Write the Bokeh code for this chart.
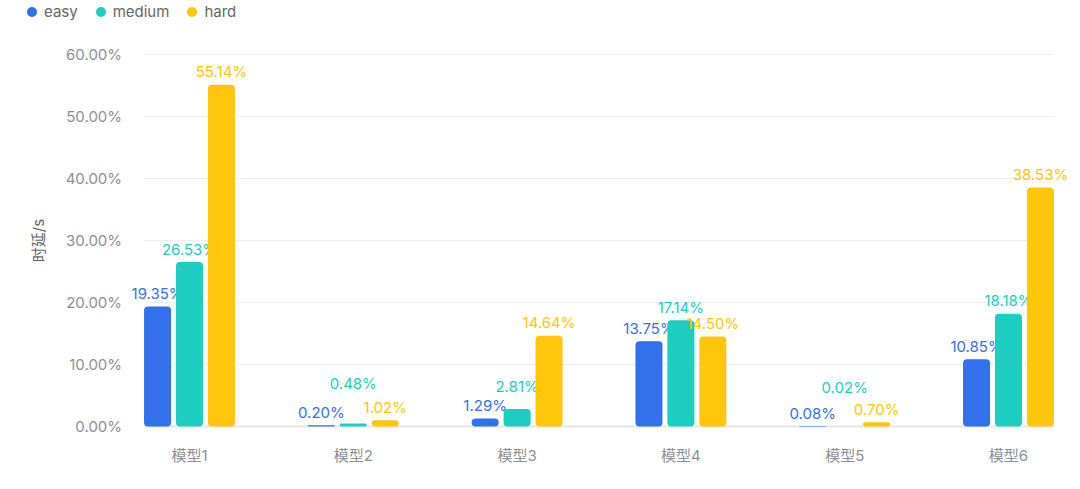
import numpy as np
from bokeh.plotting import figure
from bokeh.models import (ColumnDataSource, Range1d, FixedTicker, Legend, LegendItem)
from bokeh.core.properties import value
from bokeh.embed import file_html
from bokeh.resources import INLINE

categories = ["模型1", "模型2", "模型3", "模型4", "模型5", "模型6"]
series = ["easy", "medium", "hard"]
easy = [19.35, 0.20, 1.29, 13.75, 0.08, 10.85]
medium = [26.53, 0.48, 2.81, 17.14, 0.02, 18.18]
hard = [55.14, 1.02, 14.64, 14.50, 0.70, 38.53]
y_ticks = [0, 10, 20, 30, 40, 50, 60]
y_title = "时延/s"

# styles (not data)
colors = ["#3370EB", "#1DCEC0", "#FFC60B"]
label_lift = {"easy": [0, 0, 0, 0, 0, 0],
              "medium": [0, 27, 10, 0, 26, 0],
              "hard": [0, 0, 0, 0, 0, 0]}
offsets = [-0.195, 0.0, 0.195]
bar_w = 0.165
FONT = "Inter, Noto Sans CJK SC"
TICK_COLOR = "#8c8f96"
W, H = 1072, 481
FRAME_H = 434

x_lo = offsets[0] - bar_w / 2
x_hi = len(categories) - 1 + offsets[-1] + bar_w / 2

p = figure(width=W, height=H, output_backend="svg", toolbar_location=None,
           x_range=Range1d(-1.1538, 5.3785), y_range=Range1d(-1.290, 68.71),
           min_border_left=0, min_border_right=2, min_border_top=0,
           min_border_bottom=H - FRAME_H, y_axis_location=None)
p.outline_line_color = None
p.xgrid.grid_line_color = None
p.ygrid.grid_line_color = None

# horizontal grid lines limited to the bar area
grid_src = ColumnDataSource(dict(y=y_ticks[1:]))
p.segment(x0=x_lo, x1=x_hi, y0="y", y1="y", source=grid_src,
          line_color="#eeeeee", line_width=1)
p.segment(x0=[x_lo], x1=[x_hi], y0=[y_ticks[0]], y1=[y_ticks[0]],
          line_color="#e6e6e6", line_width=2)

# y tick labels and title
tick_src = ColumnDataSource(dict(y=y_ticks, t=["%.2f%%" % t for t in y_ticks]))
p.text(x=x_lo, y="y", text="t", source=tick_src, text_align="right",
       text_baseline="middle", x_offset=-22, text_color=TICK_COLOR,
       text_font=value(FONT), text_font_size="15px")
p.text(x=[x_lo], y=[(y_ticks[0] + y_ticks[-1]) / 2], text=[y_title], angle=np.pi / 2,
       text_align="center", text_baseline="middle", x_offset=-106,
       text_color="#666666", text_font=value(FONT), text_font_size="15px")

data = {"easy": easy, "medium": medium, "hard": hard}
idx = np.arange(len(categories))
items = []
for s, c, off in zip(series, colors, offsets):
    vals = data[s]
    src = ColumnDataSource(dict(x=idx + off, top=vals,
                                label=["%.2f%%" % v for v in vals],
                                yoff=[-13 - l for l in label_lift[s]]))
    p.vbar(x="x", top="top", bottom=0, width=bar_w, source=src, fill_color=c,
           line_color=None, border_radius=4)
    p.text(x="x", y="top", text="label", source=src, text_align="center",
           text_baseline="middle", y_offset="yoff", text_color=c,
           text_font=value(FONT), text_font_size="15px")
    # legend-only marker, placed outside the visible range
    d = p.scatter(x=[-50], y=[-50], marker="circle", size=10, fill_color=c, line_color=None)
    items.append(LegendItem(label=s, renderers=[d]))

legend = Legend(items=items, orientation="horizontal", location=(19, FRAME_H - 23.5),
                border_line_color=None, background_fill_alpha=0, padding=0, margin=0,
                label_text_font=FONT, label_text_font_size="15px", label_text_color="#666666",
                glyph_width=25, glyph_height=25, label_standoff=0, spacing=10,
                label_height=18)
p.add_layout(legend, "center")

p.xaxis.ticker = FixedTicker(ticks=list(idx))
p.xaxis.major_label_overrides = {int(i): c for i, c in zip(idx, categories)}
p.xaxis.axis_line_color = None
p.xaxis.major_tick_line_color = None
p.xaxis.minor_tick_line_color = None
p.xaxis.major_label_standoff = 5
p.xaxis.major_label_text_font = FONT
p.xaxis.major_label_text_font_size = "15px"
p.xaxis.major_label_text_color = TICK_COLOR

open("out.html", "w").write(file_html(p, INLINE))
